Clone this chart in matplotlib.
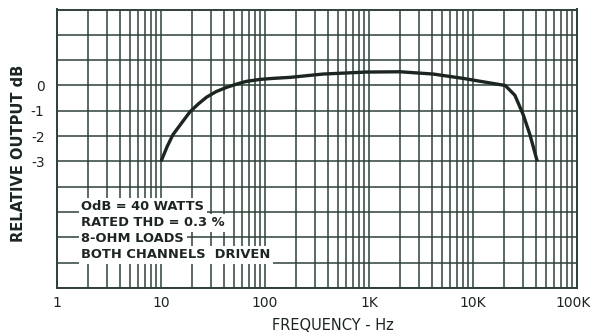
import matplotlib
matplotlib.use("Agg")
import matplotlib.pyplot as plt
import matplotlib.transforms as mtransforms
from matplotlib.ticker import FixedLocator, LogLocator, NullFormatter

# Data
freq_hz = [10, 11.5, 13, 16, 19, 23, 27.5, 34, 43, 55, 66, 90, 120, 175, 360,
           950, 2000, 4150, 8000, 14500, 20400, 25300, 30500, 35300, 41500]
rel_db = [-3.0, -2.4, -1.95, -1.45, -1.04, -0.72, -0.46, -0.24, -0.07, 0.07, 0.16,
          0.24, 0.28, 0.32, 0.45, 0.53, 0.54, 0.45, 0.28, 0.10, 0.0, -0.39, -1.17,
          -1.95, -3.0]

x_ticks = [1, 10, 100, 1000, 10000, 100000]
x_tick_labels = ["1", "10", "100", "1K", "10K", "100K"]
y_ticks = [0, -1, -2, -3]
y_tick_labels = ["0", "-1", "-2", "-3"]
y_grid = list(range(-8, 4))
note_lines = ["OdB = 40 WATTS", "RATED THD = 0.3 %", "8-OHM LOADS", "BOTH CHANNELS  DRIVEN"]

ink = "#1c2620"
grid_c = "#2c4237"

fig = plt.figure(figsize=(5.9, 3.34), dpi=100)
ax = fig.add_axes([57/590, 1-288/334, 520/590, 278.5/334])
ax.set_xscale("log")
ax.set_xlim(1, 100000)
ax.set_ylim(-8, 3)

ax.xaxis.set_major_locator(FixedLocator(x_ticks))
ax.set_xticklabels(x_tick_labels)
ax.xaxis.set_minor_locator(LogLocator(base=10, subs=range(2, 10)))
ax.xaxis.set_minor_formatter(NullFormatter())
ax.yaxis.set_major_locator(FixedLocator(y_ticks))
ax.set_yticklabels(y_tick_labels)
ax.yaxis.set_minor_locator(FixedLocator(y_grid))

ax.grid(True, which="both", color=grid_c, linewidth=1.1)
ax.tick_params(which="both", length=0, colors=ink, labelsize=10)
ax.tick_params(axis="x", pad=6)
ax.tick_params(axis="y", pad=9)
for s in ax.spines.values():
    s.set_color(grid_c)
    s.set_linewidth(1.4)
ax.set_axisbelow(True)

# keep the last x tick label inside the figure
last = ax.get_xticklabels()[-1]
last.set_transform(last.get_transform() +
                   mtransforms.ScaledTranslation(-4/100, 0, fig.dpi_scale_trans))

ax.plot(freq_hz, rel_db, color=ink, linewidth=2.4, solid_capstyle="butt", zorder=3)

ys = [0.291, 0.234, 0.177, 0.120]
for txt, yy in zip(note_lines, ys):
    ax.text(0.047, yy, txt, transform=ax.transAxes, fontsize=9.4, color=ink,
            fontweight="bold", va="center", ha="left", zorder=4,
            bbox=dict(facecolor="white", edgecolor="none", pad=1.8))

ax.set_xlabel("FREQUENCY - Hz", fontsize=10.5, color=ink)
ax.xaxis.set_label_coords(276/520, -30/278.5)
ax.set_ylabel("RELATIVE OUTPUT dB", fontsize=10.5, color=ink, fontweight="bold")
ax.yaxis.set_label_coords(-31/520, (288-153)/278.5)

fig.savefig("out.png", dpi=100)
